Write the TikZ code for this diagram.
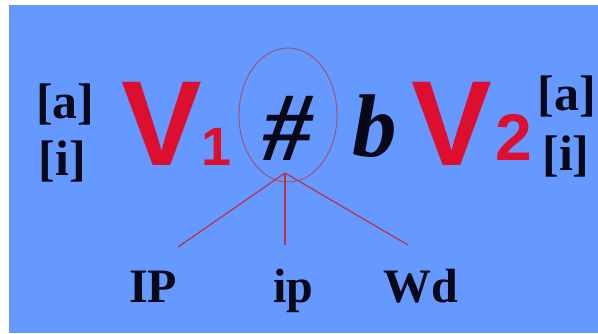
\documentclass[tikz,border=0pt]{standalone}
\usepackage{fontspec}
\setmainfont{Liberation Serif}
\newfontfamily\arialfont{Liberation Sans}
\definecolor{bgblue}{RGB}{102,153,255}
\definecolor{vred}{RGB}{222,14,46}
\definecolor{lred}{RGB}{185,50,70}
\definecolor{ered}{RGB}{160,80,100}
\definecolor{ink}{RGB}{8,8,24}
\tikzset{
  txt/.style={inner sep=0pt, anchor=base, text=ink},
  brk/.style={txt, font=\fontsize{50}{60}\selectfont\bfseries},
  lab/.style={txt, font=\fontsize{48}{58}\selectfont\bfseries},
  vowel/.style={inner sep=0pt, anchor=base, text=vred, font=\fontsize{121}{140}\selectfont\arialfont\bfseries},
  subnum/.style={inner sep=0pt, anchor=base, text=vred, font=\fontsize{#1}{70}\selectfont\arialfont\bfseries},
  bi/.style={txt, font=\fontsize{#1}{110}\selectfont\bfseries\itshape},
  link/.style={draw=lred, line width=1.2pt},
}
\begin{document}
\begin{tikzpicture}[x=1pt,y=-1pt]
\useasboundingbox (0,0) rectangle (598,333);
\fill[white] (0,0) rectangle (598,333);
\fill[bgblue] (9,5) rectangle (598,333);
% left features
\node[brk] (la) at (65.5,118) {[a]};
\node[brk] (li) at (62.5,175) {[i]};
% V1
\node[vowel] (v1) at (162,165) {V};
\node[subnum=54] (s1) at (217,165) {1};
% boundary
\node[bi=98] (hash) at (287.5,160) {\#};
\draw[draw=ered, line width=0.9pt] (288,115) ellipse [x radius=49, y radius=67];
\node[bi=89] (b) at (375,156) {b};
% V2
\node[vowel] (v2) at (452,165) {V};
\node[subnum=66] (s2) at (513.5,160) {2};
% right features
\node[brk] (ra) at (567,110) {[a]};
\node[brk] (ri) at (566,170) {[i]};
% tree
\coordinate (j) at (285,173);
\coordinate (eIP) at (178,247);
\coordinate (eip) at (285,245);
\coordinate (eWd) at (408,245);
\draw[link] (j) -- (eIP);
\draw[link] (j) -- (eip);
\draw[link] (j) -- (eWd);
\node[lab] (IP) at (153,302) {IP};
\node[lab] (ip) at (293.5,302) {ip};
\node[lab] (Wd) at (420.5,302) {Wd};
\end{tikzpicture}
\end{document}
